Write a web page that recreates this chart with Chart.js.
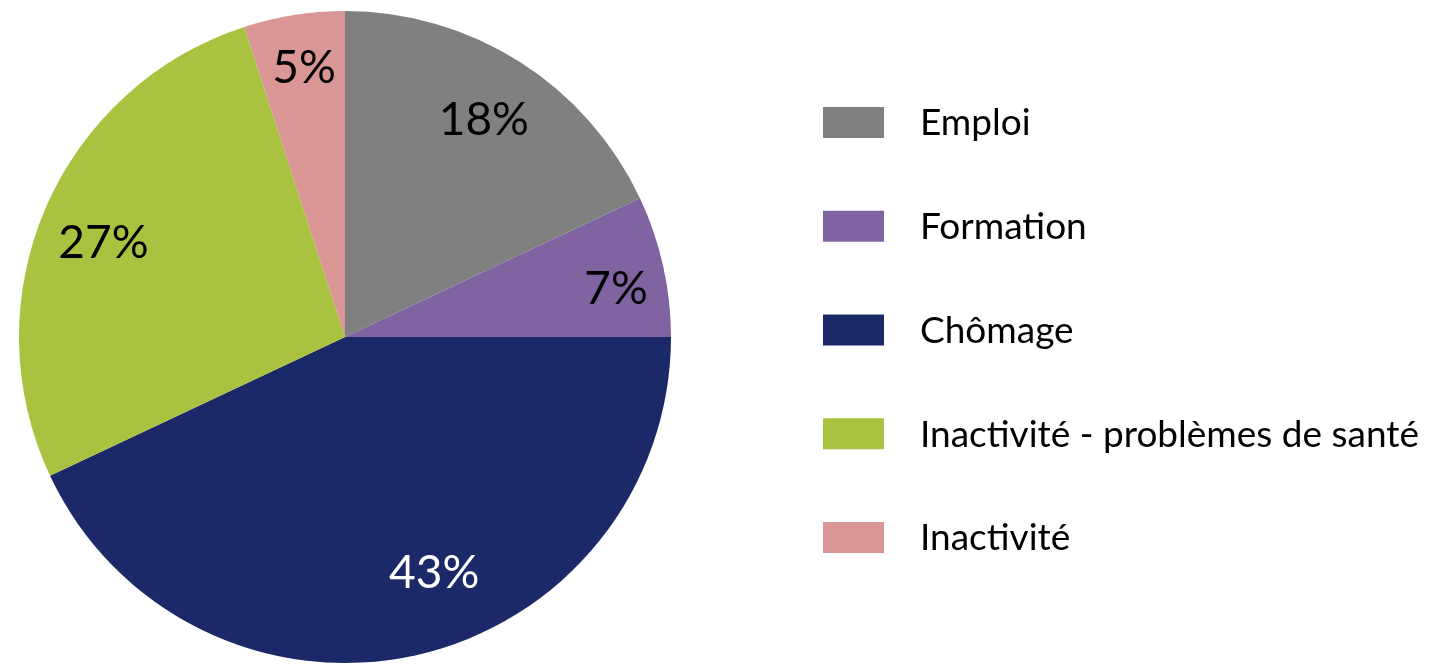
<!DOCTYPE html>
<html><head><meta charset="utf-8">
<script src="https://cdn.jsdelivr.net/npm/chart.js@4"></script>
<style>html,body{margin:0;padding:0;background:#fff;overflow:hidden}canvas{display:block}</style>
</head><body><canvas id="c" width="1440" height="664"></canvas>
<script>
const categories = ['Emploi', 'Formation', 'Chômage', 'Inactivité - problèmes de santé', 'Inactivité'];
const shares = [18, 7, 43, 27, 5];
const valueLabels = ['18%', '7%', '43%', '27%', '5%'];

const sliceColors = ['#808080', '#8064A2', '#1C2968', '#A9C23F', '#D99694'];
const labelColors = ['#000000', '#000000', '#FFFFFF', '#000000', '#000000'];
// label placement: [fraction of radius, angular nudge in degrees]
const labelPlacement = [[0.795, 0], [0.845, 2.3], [0.77, -8.2], [0.797, -1.8], [0.838, 0.4]];

const FONT = 'Lato, "Open Sans", sans-serif';

const sliceLabels = {
  id: 'sliceLabels',
  afterDatasetsDraw(chart) {
    const ctx = chart.ctx;
    const meta = chart.getDatasetMeta(0);
    const size = 46;
    ctx.save();
    ctx.font = size + 'px ' + FONT;
    ctx.textAlign = 'center';
    ctx.textBaseline = 'alphabetic';
    meta.data.forEach((arc, i) => {
      const p = arc.getProps(['x', 'y', 'startAngle', 'endAngle', 'outerRadius'], true);
      const [f, nudge] = labelPlacement[i];
      const a = (p.startAngle + p.endAngle) / 2 + nudge * Math.PI / 180;
      const px = p.x + Math.cos(a) * p.outerRadius * f;
      const py = p.y + Math.sin(a) * p.outerRadius * f;
      ctx.fillStyle = labelColors[i];
      ctx.fillText(valueLabels[i], px, py + size * 0.36);
    });
    ctx.restore();
  }
};

const sideLegend = {
  id: 'sideLegend',
  afterDraw(chart) {
    const ctx = chart.ctx;
    const labels = chart.data.labels;
    const colors = chart.data.datasets[0].backgroundColor;
    const boxX = 823, boxW = 61, boxH = 31, top0 = 107, step = 103.75, textX = 920, size = 37;
    ctx.save();
    ctx.font = size + 'px ' + FONT;
    ctx.textAlign = 'left';
    ctx.textBaseline = 'alphabetic';
    labels.forEach((lab, i) => {
      const top = top0 + i * step;
      ctx.fillStyle = colors[i];
      ctx.fillRect(boxX, top, boxW, boxH);
      ctx.fillStyle = '#000000';
      ctx.fillText(lab, textX, top + boxH / 2 + size * 0.35);
    });
    ctx.restore();
  }
};

new Chart(document.getElementById('c'), {
  type: 'pie',
  data: {
    labels: categories,
    datasets: [{
      data: shares,
      backgroundColor: sliceColors,
      borderWidth: 0
    }]
  },
  options: {
    responsive: false,
    devicePixelRatio: 1,
    animation: false,
    layout: { padding: { left: 19, right: 769, top: 11, bottom: 1 } },
    plugins: {
      legend: { display: false },
      tooltip: { enabled: false },
      title: { display: false }
    }
  },
  plugins: [sliceLabels, sideLegend]
});
</script>
</body></html>
